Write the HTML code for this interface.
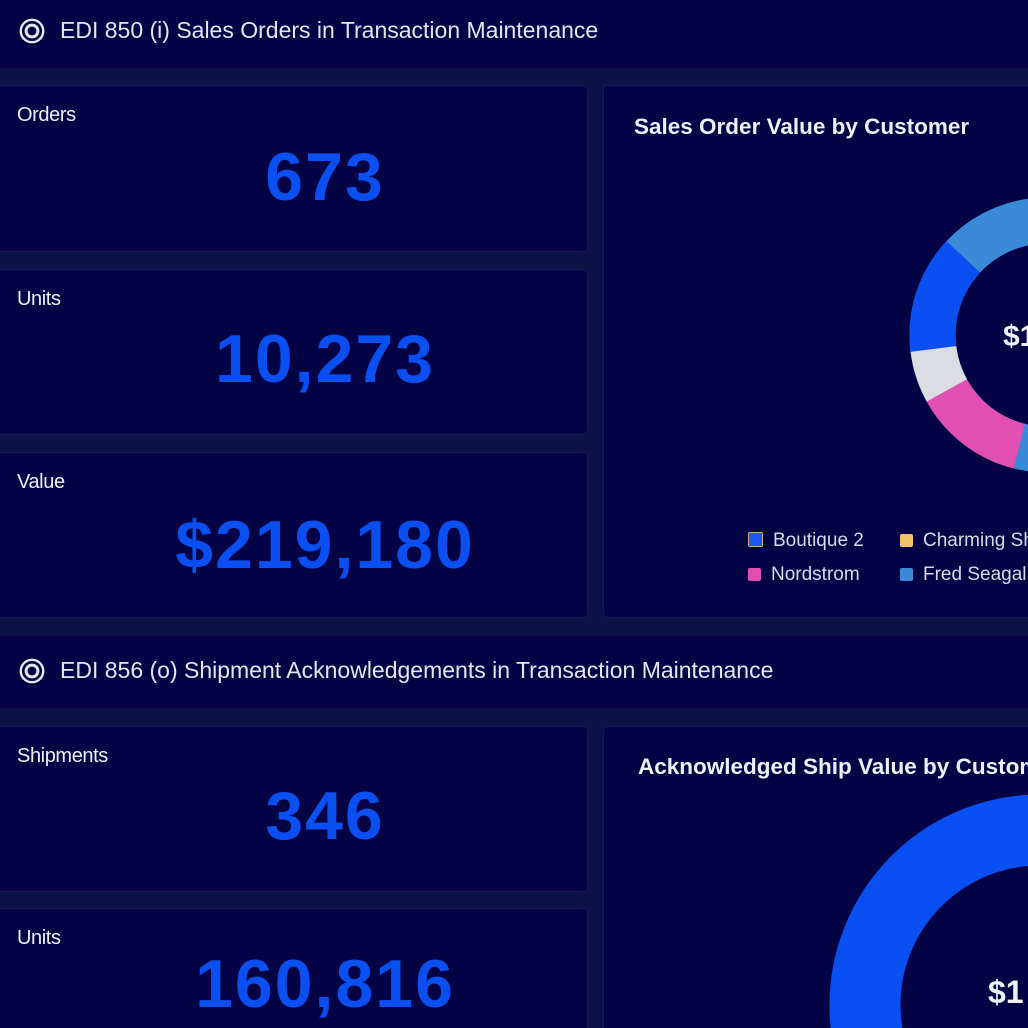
<!DOCTYPE html>
<html><head><style>
html,body{margin:0;padding:0;width:1028px;height:1028px;overflow:hidden;}
body{background:#0b1247;position:relative;font-family:"Liberation Sans",sans-serif;color:#e6e8f2;white-space:nowrap;}
.p{position:absolute;background:#020244;border-radius:4px;box-shadow:0 0 0 1px #141c58;overflow:hidden;}
.hd{position:absolute;left:0;width:1028px;background:#020244;}
.ht{position:absolute;left:60px;font-size:23px;color:#e4e6f0;}
.ic{position:absolute;left:19px;width:26px;height:26px;}
.lab{position:absolute;left:21px;top:18px;font-size:20px;letter-spacing:-0.4px;color:#eef0f8;}
.val{position:absolute;left:0;width:650px;text-align:center;font-weight:bold;color:#0a4ff2;font-size:68px;letter-spacing:2px;}
.ct{position:absolute;font-size:22.5px;font-weight:bold;color:#eef0f8;}
.lg{position:absolute;font-size:19px;color:#d8dae8;}
.sw{display:inline-block;width:13px;height:13px;margin-right:10px;vertical-align:-1px;border-radius:2px;}
#wrap{position:absolute;left:0;top:0;width:1028px;height:1028px;overflow:hidden;}
</style></head><body><div id="wrap">
<div class="hd" style="top:0;height:68px;"></div>
<svg class="ic" style="top:18px" viewBox="0 0 22 22"><circle cx="11" cy="11" r="9.5" fill="none" stroke="#e6e8f2" stroke-width="2"/><circle cx="11" cy="11" r="5" fill="none" stroke="#e6e8f2" stroke-width="2.5"/></svg>
<div class="ht" style="top:17px">EDI 850 (i) Sales Orders in Transaction Maintenance</div>

<div class="p" style="left:-4px;top:86px;width:591px;height:165px"><div class="lab">Orders</div><div class="val" style="top:52px;left:4px;">673</div></div>
<div class="p" style="left:-4px;top:270px;width:591px;height:164px"><div class="lab">Units</div><div class="val" style="top:50px;left:4px;">10,273</div></div>
<div class="p" style="left:-4px;top:453px;width:591px;height:164px"><div class="lab">Value</div><div class="val" style="top:53px;left:4px;">$219,180</div></div>

<div class="p" style="left:604px;top:86px;width:430px;height:531px"></div>
<div class="ct" style="left:634px;top:114px">Sales Order Value by Customer</div>
<div class="lg" style="left:748px;top:530px"><span class="sw" style="background:#1f55f0;border:1px solid #c9b071"></span>Boutique 2</div>
<div class="lg" style="left:900px;top:530px"><span class="sw" style="background:#f1c46a"></span>Charming Shoppes</div>
<div class="lg" style="left:748px;top:564px"><span class="sw" style="background:#e04fb0"></span>Nordstrom</div>
<div class="lg" style="left:900px;top:564px"><span class="sw" style="background:#3b8ad8"></span>Fred Seagal</div>

<div class="hd" style="top:636px;height:72px;"></div>
<svg class="ic" style="top:658px" viewBox="0 0 22 22"><circle cx="11" cy="11" r="9.5" fill="none" stroke="#e6e8f2" stroke-width="2"/><circle cx="11" cy="11" r="5" fill="none" stroke="#e6e8f2" stroke-width="2.5"/></svg>
<div class="ht" style="top:657px">EDI 856 (o) Shipment Acknowledgements in Transaction Maintenance</div>

<div class="p" style="left:-4px;top:727px;width:591px;height:164px"><div class="lab">Shipments</div><div class="val" style="top:50px;left:4px;">346</div></div>
<div class="p" style="left:-4px;top:909px;width:591px;height:130px"><div class="lab">Units</div><div class="val" style="top:36px;left:4px;">160,816</div></div>

<div class="p" style="left:604px;top:727px;width:430px;height:310px"></div>
<div class="ct" style="left:638px;top:754px">Acknowledged Ship Value by Customer</div>

<svg style="position:absolute;left:0;top:0" width="1028" height="1028">
<circle cx="1047" cy="335" r="114.5" fill="none" stroke="#3b8ad8" stroke-width="46"/>
<g fill="none" stroke-width="46">
<path d="M963.3 256.9 A114.5 114.5 0 0 0 933.4 349.0" stroke="#0a4ff2"/>
<path d="M933.4 349.0 A114.5 114.5 0 0 0 946.9 390.5" stroke="#dcdde2"/>
<path d="M946.9 390.5 A114.5 114.5 0 0 0 1019.3 446.1" stroke="#e24fb2"/>
</g>
<circle cx="1047" cy="335" r="91" fill="#020244"/>
<text x="1003" y="346" font-size="30" font-weight="bold" fill="#eef0f8" font-family="Liberation Sans,sans-serif">$1</text>
<circle cx="1040" cy="1005" r="175" fill="none" stroke="#0a4ff2" stroke-width="71"/>
<text x="988" y="1003" font-size="32" font-weight="bold" fill="#eef0f8" font-family="Liberation Sans,sans-serif">$1</text>
</svg>
</div></body></html>
